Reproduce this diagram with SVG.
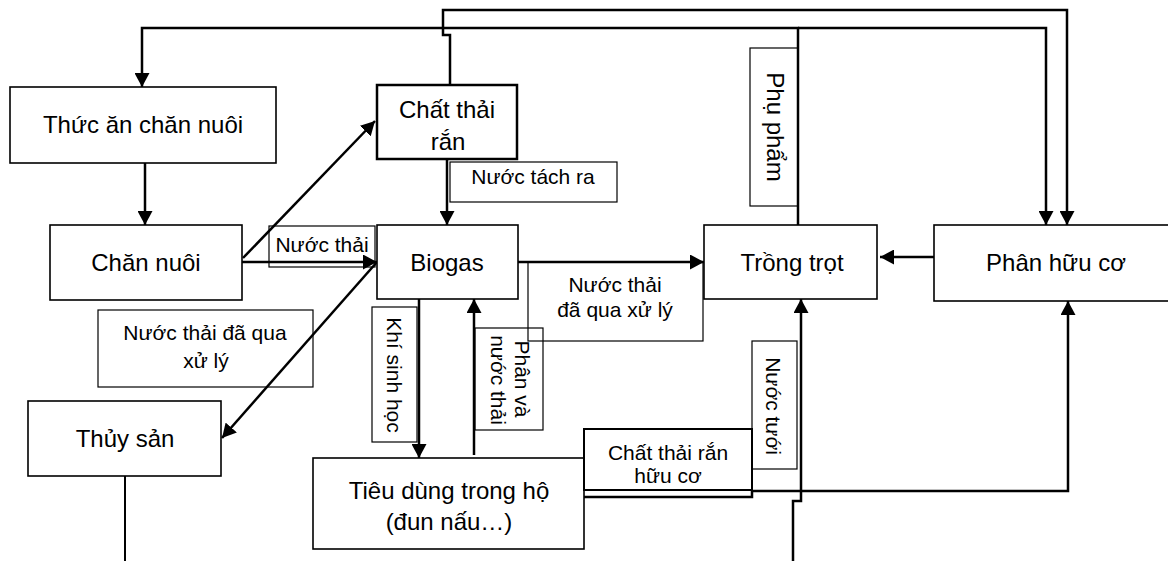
<svg xmlns="http://www.w3.org/2000/svg" width="1168" height="561" viewBox="0 0 1168 561">
<style>
  text { font-family: "Liberation Sans", Arial, sans-serif; fill: #000; }
  .main { font-size: 24px; text-anchor: middle; }
  .lbl { font-size: 21px; text-anchor: middle; }
  .node { fill: #fff; stroke: #000; stroke-width: 1.6; }
  .box { fill: none; stroke: #000; stroke-width: 1.2; }
  .conn { fill: none; stroke: #000; stroke-width: 2.5; }
  .thin { fill: none; stroke: #000; stroke-width: 2; }
</style>
<defs>
  <marker id="ah" markerUnits="userSpaceOnUse" markerWidth="14" markerHeight="15" refX="14" refY="7.5" orient="auto">
    <path d="M0,0 L14,7.5 L0,15 z" fill="#000"/>
  </marker>
</defs>
<rect width="1168" height="561" fill="#fff"/>

<g id="connectors">
  <path class="conn" d="M798,225 V28 H142 V87" marker-end="url(#ah)"/>
  <path class="conn" d="M798,28 H1046 V225" marker-end="url(#ah)"/>
  <path class="conn" d="M450,85 V35 H443 V10 H1067 V225" marker-end="url(#ah)"/>
  <path class="conn" d="M145,163 V225" marker-end="url(#ah)"/>
  <path class="conn" d="M242,262 H377" marker-end="url(#ah)"/>
  <path class="conn" d="M243,258 L375,121" marker-end="url(#ah)"/>
  <path class="conn" d="M447,159 V225" marker-end="url(#ah)"/>
  <path class="conn" d="M377,262 L222,438" marker-end="url(#ah)"/>
  <path class="conn" d="M419,299 V458" marker-end="url(#ah)"/>
  <path class="conn" d="M474,455 V299" marker-end="url(#ah)"/>
  <path class="conn" d="M518,262 H704" marker-end="url(#ah)"/>
  <path class="conn" d="M934,257 H880" marker-end="url(#ah)"/>
  <path class="conn" d="M793,561 V501 H801 V299" marker-end="url(#ah)"/>
  <path class="conn" d="M584,497 H752 V491 H1068 V301" marker-end="url(#ah)"/>
  <path class="thin" d="M125,476 V561"/>
</g>

<g id="label-nuoc-thai-dqxl-right">
  <rect class="box" x="528" y="262" width="175" height="79"/>
  <text class="lbl" x="615" y="292">Nước thải</text>
  <text class="lbl" x="615" y="317">đã qua xử lý</text>
</g>

<g id="node-thuc-an">
  <rect class="node" x="10" y="87" width="266" height="76"/>
  <text class="main" x="143" y="133">Thức ăn chăn nuôi</text>
</g>
<g id="node-chan-nuoi">
  <rect class="node" x="50" y="225" width="192" height="75"/>
  <text class="main" x="146" y="271">Chăn nuôi</text>
</g>
<g id="node-chat-thai-ran">
  <rect class="node" x="377" y="85" width="140" height="74" style="stroke-width:2.5"/>
  <text class="main" x="447" y="118">Chất thải</text>
  <text class="main" x="448" y="150">rắn</text>
</g>
<g id="node-biogas">
  <rect class="node" x="377" y="225" width="141" height="74"/>
  <text class="main" x="447" y="271">Biogas</text>
</g>
<g id="node-trong-trot">
  <rect class="node" x="704" y="225" width="173" height="74"/>
  <text class="main" x="792" y="271">Trồng trọt</text>
</g>
<g id="node-phan-huu-co">
  <rect class="node" x="934" y="225" width="244" height="76"/>
  <text class="main" x="1056" y="271">Phân hữu cơ</text>
</g>
<g id="node-thuy-san">
  <rect class="node" x="28" y="401" width="193" height="75"/>
  <text class="main" x="125" y="447">Thủy sản</text>
</g>
<g id="node-tieu-dung">
  <rect class="node" x="313" y="458" width="271" height="91"/>
  <text class="main" x="449" y="499">Tiêu dùng trong hộ</text>
  <text class="main" x="449" y="530">(đun nấu…)</text>
</g>

<g id="label-nuoc-tach-ra">
  <rect class="box" x="450" y="162" width="167" height="40"/>
  <text class="lbl" x="533" y="184">Nước tách ra</text>
</g>
<g id="label-nuoc-thai">
  <rect class="box" x="269" y="226" width="106" height="41"/>
  <text class="lbl" x="322" y="252">Nước thải</text>
</g>
<g id="label-nuoc-thai-dqxl-left">
  <rect class="box" x="98" y="310" width="215" height="77"/>
  <text class="lbl" x="205" y="340">Nước thải đã qua</text>
  <text class="lbl" x="206" y="368">xử lý</text>
</g>
<g id="label-khi-sinh-hoc">
  <rect class="box" x="372" y="307" width="45" height="135"/>
  <text class="lbl" transform="translate(387,375) rotate(90)">Khí sinh học</text>
</g>
<g id="label-phan-nuoc-thai">
  <rect class="box" x="475" y="328" width="68" height="102"/>
  <text class="lbl" transform="translate(515,379) rotate(90)">Phân và</text>
  <text class="lbl" transform="translate(491,380) rotate(90)">nước thải</text>
</g>
<g id="label-phu-pham">
  <rect class="box" x="750" y="48" width="48" height="158"/>
  <text class="main" transform="translate(767,127) rotate(90)">Phụ phẩm</text>
</g>
<g id="label-nuoc-tuoi">
  <rect class="box" x="752" y="341" width="45" height="128"/>
  <text class="lbl" transform="translate(766,406) rotate(90)">Nước tưới</text>
</g>
<g id="label-chat-thai-ran-huu-co">
  <rect class="box" x="584" y="429" width="168" height="61" style="stroke-width:2"/>
  <text class="lbl" x="668" y="460">Chất thải rắn</text>
  <text class="lbl" x="668" y="483">hữu cơ</text>
</g>
</svg>
